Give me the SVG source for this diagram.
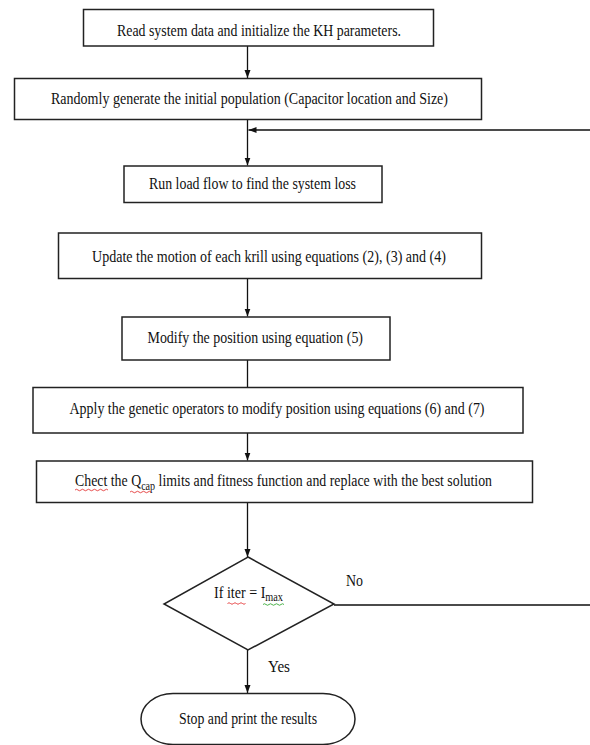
<svg xmlns="http://www.w3.org/2000/svg" width="590" height="745" viewBox="0 0 590 745">
<style>
.box{fill:#fff;stroke:#222;stroke-width:1.5}
.ln{fill:none;stroke:#111;stroke-width:1.3}
.t{font-family:"Liberation Serif","Times New Roman",serif;font-size:16.5px;fill:#111}
.sub{font-size:12px}
.sqr{fill:none;stroke:#e02020;stroke-width:0.8}
.sqg{fill:none;stroke:#20a020;stroke-width:0.8}
</style>
<defs>
<marker id="arr" markerUnits="userSpaceOnUse" markerWidth="9" markerHeight="7" refX="8" refY="3" orient="auto">
<path d="M0,0 L8,3 L0,6 z" fill="#111"/>
</marker>
</defs>
<rect width="590" height="745" fill="#fff"/>
<g id="connectors">
<line class="ln" x1="247.5" y1="46" x2="247.5" y2="78" marker-end="url(#arr)"/>
<line class="ln" x1="247.5" y1="120" x2="247.5" y2="165.5" marker-end="url(#arr)"/>
<line class="ln" x1="247.5" y1="278.5" x2="247.5" y2="316.5" marker-end="url(#arr)"/>
<line class="ln" x1="247.5" y1="360" x2="247.5" y2="387"/>
<line class="ln" x1="247.5" y1="433" x2="247.5" y2="460.5" marker-end="url(#arr)"/>
<line class="ln" x1="247.5" y1="502.5" x2="247.5" y2="557" marker-end="url(#arr)"/>
<line class="ln" x1="247.5" y1="650" x2="247.5" y2="693" marker-end="url(#arr)"/>
<path class="ln" d="M334,605 H592 V130 H248.5" marker-end="url(#arr)"/>
</g>
<g id="n1">
<rect class="box" x="83.5" y="9.5" width="350" height="36.5"/>
<text class="t" x="117" y="36" textLength="284" lengthAdjust="spacingAndGlyphs">Read system data and initialize the KH parameters.</text>
</g>
<g id="n2">
<rect class="box" x="14.5" y="78.5" width="467" height="41"/>
<text class="t" x="51" y="104" textLength="397" lengthAdjust="spacingAndGlyphs">Randomly generate the initial population (Capacitor location and Size)</text>
</g>
<g id="n3">
<rect class="box" x="124" y="166" width="258" height="36.5"/>
<text class="t" x="149" y="189" textLength="207" lengthAdjust="spacingAndGlyphs">Run load flow to find the system loss</text>
</g>
<g id="n4">
<rect class="box" x="58.5" y="233" width="423" height="45.5"/>
<text class="t" x="92" y="261.5" textLength="354" lengthAdjust="spacingAndGlyphs">Update the motion of each krill using equations (2), (3) and (4)</text>
</g>
<g id="n5">
<rect class="box" x="122" y="317" width="268" height="43"/>
<text class="t" x="147.5" y="343" textLength="215.5" lengthAdjust="spacingAndGlyphs">Modify the position using equation (5)</text>
</g>
<g id="n6">
<rect class="box" x="33" y="387.5" width="490" height="45.5"/>
<text class="t" x="69.5" y="414" textLength="415" lengthAdjust="spacingAndGlyphs">Apply the genetic operators to modify position using equations (6) and (7)</text>
</g>
<g id="n7">
<rect class="box" x="36.5" y="461" width="496" height="41.5"/>
<text class="t" x="75" y="486" textLength="417" lengthAdjust="spacingAndGlyphs">Chect the Q<tspan class="sub" dy="3.5">cap</tspan><tspan dy="-3.5"> limits and fitness function and replace with the best solution</tspan></text>
<path class="sqr" d="M75,490 q1.5,-1.5 3,0 t3,0 t3,0 t3,0 t3,0 t3,0 t3,0 t3,0 t3,0 t3,0 t3,0"/>
<path class="sqr" d="M130,492 q1.5,-1.5 3,0 t3,0 t3,0 t3,0 t3,0 t3,0 t3,0"/>
</g>
<g id="n8">
<polygon class="box" points="248,557 334,604 248,650 164,604"/>
<text class="t" x="214" y="598" textLength="69" lengthAdjust="spacingAndGlyphs">If iter = I<tspan class="sub" dy="2.5">max</tspan></text>
<path class="sqr" d="M227.5,603.5 q1.5,-1.5 3,0 t3,0 t3,0 t3,0 t3,0 t3,0"/>
<path class="sqg" d="M263,604.5 q1.5,-1.5 3,0 t3,0 t3,0 t3,0 t3,0 t3,0 t3,0"/>
</g>
<g id="labels">
<text class="t" x="346" y="586" textLength="17" lengthAdjust="spacingAndGlyphs">No</text>
<text class="t" x="268" y="672" textLength="22" lengthAdjust="spacingAndGlyphs">Yes</text>
</g>
<g id="n9">
<rect class="box" x="141" y="693.5" width="214" height="51" rx="32" ry="25.5"/>
<text class="t" x="179" y="724" textLength="138" lengthAdjust="spacingAndGlyphs">Stop and print the results</text>
</g>
</svg>
